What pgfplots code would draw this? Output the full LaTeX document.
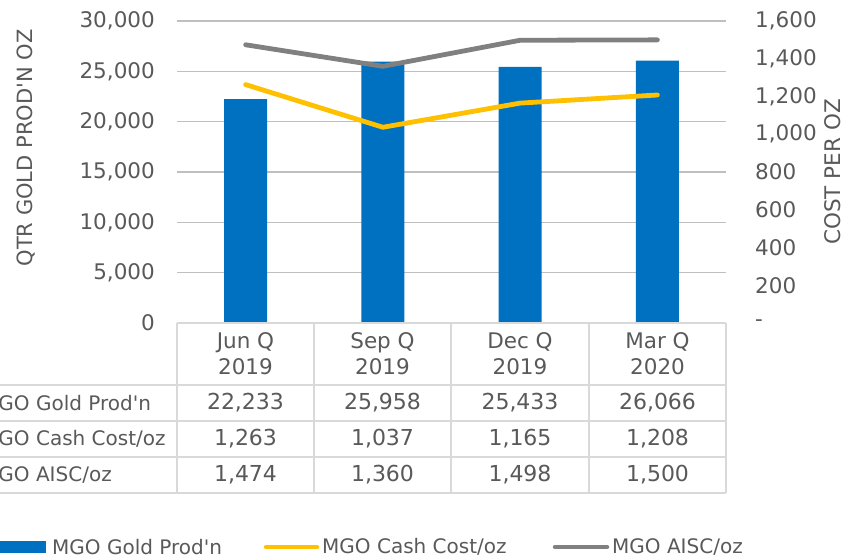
\documentclass[border=0pt]{standalone}
\usepackage{fontspec}
\setmainfont{DejaVu Sans}[Ligatures=TeXOff]
\usepackage{xcolor}
\usepackage{pgfplots}
\pgfplotsset{compat=1.18}
\definecolor{bar}{HTML}{0070C0}
\definecolor{cash}{HTML}{FFC000}
\definecolor{aisc}{HTML}{808080}
\definecolor{txt}{HTML}{595959}
\definecolor{grid}{HTML}{D9D9D9}

\pgfplotstableread{
q prod cash aisc
0 22233 1263 1474
1 25958 1037 1360
2 25433 1165 1498
3 26066 1208 1500
}\mgo

\begin{document}
\begin{tikzpicture}[x=1pt, y=1pt, font=\fontsize{20}{24}\selectfont, text=txt]
\path[use as bounding box] (0,0) rectangle (845,558);
\pgfplotsset{
  base/.style={
    at={(177pt,235pt)}, anchor=south west,
    scale only axis, width=549pt, height=302pt,
    xmin=-0.5, xmax=3.5, xtick=\empty,
    axis x line=none, ymin=0, scaled y ticks=false,
    major tick length=0pt,
    tick label style={font=\fontsize{21.5}{24}\selectfont, text=txt},
    /pgf/number format/assume math mode=true},
}
% left axis: production bars
\begin{axis}[base, ymax=30000, axis y line*=left, y axis line style={draw=none},
  ytick={0,5000,...,30000},
  yticklabels={0,{5,000},{10,000},{15,000},{20,000},{25,000},{30,000}},
  yticklabel style={anchor=east, inner sep=0pt, xshift=-22pt},
  ymajorgrids, grid style={grid, line width=1.3pt}]
\addplot[ybar, bar width=43pt, fill=bar, draw=none] table[x=q, y=prod] {\mgo};
\end{axis}
% right axis: cost per oz lines
\begin{axis}[base, ymax=1600, axis y line*=right, y axis line style={draw=none},
  ytick={0,200,...,1600},
  yticklabels={-,200,400,600,800,{1,000},{1,200},{1,400},{1,600}},
  yticklabel style={anchor=west, inner sep=0pt, xshift=29pt}]
\addplot[cash, line width=4.8pt, line cap=round] table[x=q, y=cash] {\mgo};
\addplot[aisc, line width=4.8pt, line cap=round] table[x=q, y=aisc] {\mgo};
\end{axis}
% axis titles
\node[rotate=90, font=\fontsize{21}{24}\selectfont] at (26,410) {QTR GOLD PROD'N OZ};
\node[rotate=90, font=\fontsize{21.5}{24}\selectfont] at (833,386) {COST PER OZ};
% data table
\begin{scope}[draw=grid, line width=1.6pt]
\draw (177,235) -- (726,235);
\draw (0,173) -- (726,173);
\draw (0,137) -- (726,137);
\draw (0,101) -- (726,101);
\draw (0,65) -- (726,65);
\foreach \x in {177,314,451,589,726} \draw (\x,235) -- (\x,65);
\end{scope}
\foreach \x/\a/\b in {245.5/Jun Q/2019, 382.5/Sep Q/2019, 520/Dec Q/2019, 657.5/Mar Q/2020}
  \node[align=center, font=\fontsize{21.5}{26}\selectfont] at (\x,204) {\a\\\b};
\foreach \x/\a/\b/\c in {245.5/{22,233}/{1,263}/{1,474}, 382.5/{25,958}/{1,037}/{1,360},
                         520/{25,433}/{1,165}/{1,498}, 657.5/{26,066}/{1,208}/{1,500}} {
  \node[font=\fontsize{22}{24}\selectfont] at (\x,155) {\a};
  \node[font=\fontsize{22}{24}\selectfont] at (\x,119) {\b};
  \node[font=\fontsize{22}{24}\selectfont] at (\x,83) {\c};
}
\node[anchor=west, inner sep=0pt] at (-19,155) {MGO Gold Prod'n};
\node[anchor=west, inner sep=0pt] at (-19,119) {MGO Cash Cost/oz};
\node[anchor=west, inner sep=0pt] at (-19,83) {MGO AISC/oz};
% legend
\fill[bar] (-2,5) rectangle (46,17);
\node[anchor=west, inner sep=0pt] at (52,11) {MGO Gold Prod'n};
\draw[cash, line width=4.5pt, line cap=round] (266,11) -- (317,11);
\node[anchor=west, inner sep=0pt] at (322,11) {MGO Cash Cost/oz};
\draw[aisc, line width=4.5pt, line cap=round] (555,11) -- (607,11);
\node[anchor=west, inner sep=0pt] at (612,11) {MGO AISC/oz};
\end{tikzpicture}
\end{document}
